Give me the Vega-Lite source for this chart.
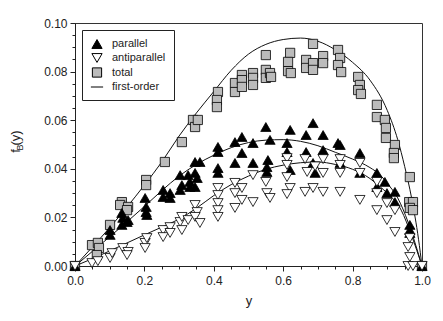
{
  "$schema": "https://vega.github.io/schema/vega-lite/v6.json",
  "width": 347,
  "height": 243,
  "autosize": {"type": "none"},
  "padding": {"left": 75, "top": 23, "right": 21, "bottom": 55},
  "config": {
    "view": {"stroke": "#333", "strokeWidth": 1},
    "font": "Liberation Sans",
    "axis": {
      "labelFont": "Liberation Sans", "labelFontSize": 12, "labelColor": "#222",
      "titleFont": "Liberation Sans", "titleFontSize": 13, "titleFontWeight": "normal", "titleColor": "#222",
      "domainColor": "#222", "tickColor": "#222", "grid": false
    },
    "legend": {
      "orient": "top-left", "offset": 7, "padding": 8,
      "strokeColor": "#222", "fillColor": "#fff", "cornerRadius": 0,
      "labelFont": "Liberation Sans", "labelFontSize": 11, "labelColor": "#222",
      "labelOffset": 8
    }
  },
  "datasets": {
    "points": [
      {"series": "total", "y": 0, "fB": 0},
      {"series": "total", "y": 0.049, "fB": 0.0086},
      {"series": "total", "y": 0.066, "fB": 0.0095},
      {"series": "total", "y": 0.069, "fB": 0.0074},
      {"series": "total", "y": 0.063, "fB": 0.0045},
      {"series": "total", "y": 0.101, "fB": 0.0169},
      {"series": "total", "y": 0.135, "fB": 0.0263},
      {"series": "total", "y": 0.130, "fB": 0.0251},
      {"series": "total", "y": 0.153, "fB": 0.0243},
      {"series": "total", "y": 0.150, "fB": 0.0230},
      {"series": "total", "y": 0.205, "fB": 0.0354},
      {"series": "total", "y": 0.205, "fB": 0.0333},
      {"series": "total", "y": 0.259, "fB": 0.0428},
      {"series": "total", "y": 0.308, "fB": 0.0510},
      {"series": "total", "y": 0.340, "fB": 0.0601},
      {"series": "total", "y": 0.346, "fB": 0.0572},
      {"series": "total", "y": 0.354, "fB": 0.0601},
      {"series": "total", "y": 0.412, "fB": 0.0716},
      {"series": "total", "y": 0.409, "fB": 0.0683},
      {"series": "total", "y": 0.409, "fB": 0.0654},
      {"series": "total", "y": 0.461, "fB": 0.0753},
      {"series": "total", "y": 0.461, "fB": 0.0716},
      {"series": "total", "y": 0.481, "fB": 0.0786},
      {"series": "total", "y": 0.481, "fB": 0.0765},
      {"series": "total", "y": 0.481, "fB": 0.0737},
      {"series": "total", "y": 0.513, "fB": 0.0794},
      {"series": "total", "y": 0.513, "fB": 0.0774},
      {"series": "total", "y": 0.513, "fB": 0.0745},
      {"series": "total", "y": 0.550, "fB": 0.0868},
      {"series": "total", "y": 0.550, "fB": 0.0807},
      {"series": "total", "y": 0.550, "fB": 0.0774},
      {"series": "total", "y": 0.562, "fB": 0.0794},
      {"series": "total", "y": 0.565, "fB": 0.0778},
      {"series": "total", "y": 0.620, "fB": 0.0877},
      {"series": "total", "y": 0.614, "fB": 0.0840},
      {"series": "total", "y": 0.614, "fB": 0.0802},
      {"series": "total", "y": 0.622, "fB": 0.0794},
      {"series": "total", "y": 0.666, "fB": 0.0848},
      {"series": "total", "y": 0.666, "fB": 0.0815},
      {"series": "total", "y": 0.686, "fB": 0.0914},
      {"series": "total", "y": 0.686, "fB": 0.0835},
      {"series": "total", "y": 0.686, "fB": 0.0807},
      {"series": "total", "y": 0.715, "fB": 0.0864},
      {"series": "total", "y": 0.715, "fB": 0.0835},
      {"series": "total", "y": 0.758, "fB": 0.0889},
      {"series": "total", "y": 0.764, "fB": 0.0856},
      {"series": "total", "y": 0.758, "fB": 0.0827},
      {"series": "total", "y": 0.767, "fB": 0.0798},
      {"series": "total", "y": 0.816, "fB": 0.0778},
      {"series": "total", "y": 0.821, "fB": 0.0745},
      {"series": "total", "y": 0.816, "fB": 0.0724},
      {"series": "total", "y": 0.824, "fB": 0.0708},
      {"series": "total", "y": 0.870, "fB": 0.0663},
      {"series": "total", "y": 0.870, "fB": 0.0613},
      {"series": "total", "y": 0.893, "fB": 0.0601},
      {"series": "total", "y": 0.896, "fB": 0.0568},
      {"series": "total", "y": 0.896, "fB": 0.0527},
      {"series": "total", "y": 0.922, "fB": 0.0498},
      {"series": "total", "y": 0.919, "fB": 0.0465},
      {"series": "total", "y": 0.919, "fB": 0.0444},
      {"series": "total", "y": 0.965, "fB": 0.0366},
      {"series": "total", "y": 0.963, "fB": 0.0263},
      {"series": "total", "y": 0.974, "fB": 0.0263},
      {"series": "total", "y": 0.965, "fB": 0.0239},
      {"series": "total", "y": 0.974, "fB": 0.0230},
      {"series": "total", "y": 1.0, "fB": 0},

      {"series": "parallel", "y": 0, "fB": 0},
      {"series": "parallel", "y": 0.101, "fB": 0.0128},
      {"series": "parallel", "y": 0.101, "fB": 0.0148},
      {"series": "parallel", "y": 0.135, "fB": 0.0218},
      {"series": "parallel", "y": 0.138, "fB": 0.0198},
      {"series": "parallel", "y": 0.150, "fB": 0.0181},
      {"series": "parallel", "y": 0.135, "fB": 0.0169},
      {"series": "parallel", "y": 0.153, "fB": 0.0189},
      {"series": "parallel", "y": 0.202, "fB": 0.0280},
      {"series": "parallel", "y": 0.205, "fB": 0.0243},
      {"series": "parallel", "y": 0.205, "fB": 0.0222},
      {"series": "parallel", "y": 0.207, "fB": 0.0210},
      {"series": "parallel", "y": 0.254, "fB": 0.0313},
      {"series": "parallel", "y": 0.254, "fB": 0.0284},
      {"series": "parallel", "y": 0.274, "fB": 0.0300},
      {"series": "parallel", "y": 0.274, "fB": 0.0280},
      {"series": "parallel", "y": 0.303, "fB": 0.0374},
      {"series": "parallel", "y": 0.308, "fB": 0.0333},
      {"series": "parallel", "y": 0.303, "fB": 0.0313},
      {"series": "parallel", "y": 0.326, "fB": 0.0374},
      {"series": "parallel", "y": 0.331, "fB": 0.0346},
      {"series": "parallel", "y": 0.331, "fB": 0.0325},
      {"series": "parallel", "y": 0.346, "fB": 0.0428},
      {"series": "parallel", "y": 0.360, "fB": 0.0428},
      {"series": "parallel", "y": 0.346, "fB": 0.0383},
      {"series": "parallel", "y": 0.352, "fB": 0.0362},
      {"series": "parallel", "y": 0.346, "fB": 0.0325},
      {"series": "parallel", "y": 0.412, "fB": 0.0490},
      {"series": "parallel", "y": 0.412, "fB": 0.0469},
      {"series": "parallel", "y": 0.412, "fB": 0.0403},
      {"series": "parallel", "y": 0.412, "fB": 0.0383},
      {"series": "parallel", "y": 0.461, "fB": 0.0510},
      {"series": "parallel", "y": 0.481, "fB": 0.0531},
      {"series": "parallel", "y": 0.481, "fB": 0.0465},
      {"series": "parallel", "y": 0.461, "fB": 0.0424},
      {"series": "parallel", "y": 0.513, "fB": 0.0506},
      {"series": "parallel", "y": 0.513, "fB": 0.0424},
      {"series": "parallel", "y": 0.550, "fB": 0.0572},
      {"series": "parallel", "y": 0.562, "fB": 0.0519},
      {"series": "parallel", "y": 0.556, "fB": 0.0436},
      {"series": "parallel", "y": 0.553, "fB": 0.0407},
      {"series": "parallel", "y": 0.553, "fB": 0.0387},
      {"series": "parallel", "y": 0.620, "fB": 0.0560},
      {"series": "parallel", "y": 0.611, "fB": 0.0506},
      {"series": "parallel", "y": 0.611, "fB": 0.0469},
      {"series": "parallel", "y": 0.620, "fB": 0.0395},
      {"series": "parallel", "y": 0.666, "fB": 0.0539},
      {"series": "parallel", "y": 0.666, "fB": 0.0469},
      {"series": "parallel", "y": 0.686, "fB": 0.0588},
      {"series": "parallel", "y": 0.715, "fB": 0.0539},
      {"series": "parallel", "y": 0.758, "fB": 0.0506},
      {"series": "parallel", "y": 0.764, "fB": 0.0498},
      {"series": "parallel", "y": 0.715, "fB": 0.0477},
      {"series": "parallel", "y": 0.764, "fB": 0.0424},
      {"series": "parallel", "y": 0.686, "fB": 0.0424},
      {"series": "parallel", "y": 0.692, "fB": 0.0383},
      {"series": "parallel", "y": 0.821, "fB": 0.0465},
      {"series": "parallel", "y": 0.821, "fB": 0.0383},
      {"series": "parallel", "y": 0.870, "fB": 0.0383},
      {"series": "parallel", "y": 0.893, "fB": 0.0346},
      {"series": "parallel", "y": 0.870, "fB": 0.0325},
      {"series": "parallel", "y": 0.899, "fB": 0.0300},
      {"series": "parallel", "y": 0.922, "fB": 0.0305},
      {"series": "parallel", "y": 0.922, "fB": 0.0263},
      {"series": "parallel", "y": 0.965, "fB": 0.0169},
      {"series": "parallel", "y": 0.965, "fB": 0.0148},
      {"series": "parallel", "y": 0.965, "fB": 0.0136},
      {"series": "parallel", "y": 1.0, "fB": 0},

      {"series": "antiparallel", "y": 0, "fB": 0},
      {"series": "antiparallel", "y": 0.049, "fB": 0.0012},
      {"series": "antiparallel", "y": 0.066, "fB": 0.0020},
      {"series": "antiparallel", "y": 0.101, "fB": 0.0033},
      {"series": "antiparallel", "y": 0.107, "fB": 0.0053},
      {"series": "antiparallel", "y": 0.138, "fB": 0.0074},
      {"series": "antiparallel", "y": 0.153, "fB": 0.0058},
      {"series": "antiparallel", "y": 0.150, "fB": 0.0045},
      {"series": "antiparallel", "y": 0.202, "fB": 0.0095},
      {"series": "antiparallel", "y": 0.207, "fB": 0.0115},
      {"series": "antiparallel", "y": 0.202, "fB": 0.0074},
      {"series": "antiparallel", "y": 0.254, "fB": 0.0148},
      {"series": "antiparallel", "y": 0.254, "fB": 0.0119},
      {"series": "antiparallel", "y": 0.274, "fB": 0.0160},
      {"series": "antiparallel", "y": 0.274, "fB": 0.0136},
      {"series": "antiparallel", "y": 0.303, "fB": 0.0181},
      {"series": "antiparallel", "y": 0.308, "fB": 0.0148},
      {"series": "antiparallel", "y": 0.308, "fB": 0.0202},
      {"series": "antiparallel", "y": 0.326, "fB": 0.0189},
      {"series": "antiparallel", "y": 0.346, "fB": 0.0251},
      {"series": "antiparallel", "y": 0.352, "fB": 0.0222},
      {"series": "antiparallel", "y": 0.346, "fB": 0.0202},
      {"series": "antiparallel", "y": 0.360, "fB": 0.0177},
      {"series": "antiparallel", "y": 0.412, "fB": 0.0321},
      {"series": "antiparallel", "y": 0.412, "fB": 0.0292},
      {"series": "antiparallel", "y": 0.412, "fB": 0.0259},
      {"series": "antiparallel", "y": 0.412, "fB": 0.0230},
      {"series": "antiparallel", "y": 0.412, "fB": 0.0202},
      {"series": "antiparallel", "y": 0.461, "fB": 0.0342},
      {"series": "antiparallel", "y": 0.481, "fB": 0.0321},
      {"series": "antiparallel", "y": 0.461, "fB": 0.0300},
      {"series": "antiparallel", "y": 0.481, "fB": 0.0272},
      {"series": "antiparallel", "y": 0.461, "fB": 0.0239},
      {"series": "antiparallel", "y": 0.513, "fB": 0.0374},
      {"series": "antiparallel", "y": 0.513, "fB": 0.0263},
      {"series": "antiparallel", "y": 0.550, "fB": 0.0346},
      {"series": "antiparallel", "y": 0.553, "fB": 0.0300},
      {"series": "antiparallel", "y": 0.562, "fB": 0.0280},
      {"series": "antiparallel", "y": 0.611, "fB": 0.0444},
      {"series": "antiparallel", "y": 0.611, "fB": 0.0416},
      {"series": "antiparallel", "y": 0.611, "fB": 0.0366},
      {"series": "antiparallel", "y": 0.620, "fB": 0.0321},
      {"series": "antiparallel", "y": 0.611, "fB": 0.0296},
      {"series": "antiparallel", "y": 0.663, "fB": 0.0440},
      {"series": "antiparallel", "y": 0.715, "fB": 0.0440},
      {"series": "antiparallel", "y": 0.692, "fB": 0.0410},
      {"series": "antiparallel", "y": 0.669, "fB": 0.0387},
      {"series": "antiparallel", "y": 0.715, "fB": 0.0383},
      {"series": "antiparallel", "y": 0.663, "fB": 0.0305},
      {"series": "antiparallel", "y": 0.686, "fB": 0.0321},
      {"series": "antiparallel", "y": 0.715, "fB": 0.0305},
      {"series": "antiparallel", "y": 0.764, "fB": 0.0440},
      {"series": "antiparallel", "y": 0.764, "fB": 0.0416},
      {"series": "antiparallel", "y": 0.764, "fB": 0.0383},
      {"series": "antiparallel", "y": 0.764, "fB": 0.0305},
      {"series": "antiparallel", "y": 0.821, "fB": 0.0424},
      {"series": "antiparallel", "y": 0.821, "fB": 0.0383},
      {"series": "antiparallel", "y": 0.821, "fB": 0.0272},
      {"series": "antiparallel", "y": 0.870, "fB": 0.0346},
      {"series": "antiparallel", "y": 0.870, "fB": 0.0300},
      {"series": "antiparallel", "y": 0.870, "fB": 0.0230},
      {"series": "antiparallel", "y": 0.899, "fB": 0.0259},
      {"series": "antiparallel", "y": 0.899, "fB": 0.0189},
      {"series": "antiparallel", "y": 0.922, "fB": 0.0230},
      {"series": "antiparallel", "y": 0.922, "fB": 0.0140},
      {"series": "antiparallel", "y": 0.965, "fB": 0.0115},
      {"series": "antiparallel", "y": 0.960, "fB": 0.0078},
      {"series": "antiparallel", "y": 0.965, "fB": 0.0037},
      {"series": "antiparallel", "y": 0.960, "fB": 0.0},
      {"series": "antiparallel", "y": 0.974, "fB": 0.0},
      {"series": "antiparallel", "y": 1.0, "fB": 0}
    ],
    "curves": [
      {"curve": "total", "y": 0, "fB": 0},
      {"curve": "total", "y": 0.05, "fB": 0.0078},
      {"curve": "total", "y": 0.1, "fB": 0.0158},
      {"curve": "total", "y": 0.15, "fB": 0.0243},
      {"curve": "total", "y": 0.2, "fB": 0.0333},
      {"curve": "total", "y": 0.25, "fB": 0.0428},
      {"curve": "total", "y": 0.3, "fB": 0.0535},
      {"curve": "total", "y": 0.35, "fB": 0.0630},
      {"curve": "total", "y": 0.4, "fB": 0.0718},
      {"curve": "total", "y": 0.45, "fB": 0.0805},
      {"curve": "total", "y": 0.5, "fB": 0.0872},
      {"curve": "total", "y": 0.55, "fB": 0.0912},
      {"curve": "total", "y": 0.6, "fB": 0.0932},
      {"curve": "total", "y": 0.65, "fB": 0.0938},
      {"curve": "total", "y": 0.7, "fB": 0.0925},
      {"curve": "total", "y": 0.75, "fB": 0.0890},
      {"curve": "total", "y": 0.8, "fB": 0.0838},
      {"curve": "total", "y": 0.85, "fB": 0.0765},
      {"curve": "total", "y": 0.9, "fB": 0.0640},
      {"curve": "total", "y": 0.93, "fB": 0.0520},
      {"curve": "total", "y": 0.95, "fB": 0.0410},
      {"curve": "total", "y": 0.97, "fB": 0.0280},
      {"curve": "total", "y": 0.99, "fB": 0.0110},
      {"curve": "total", "y": 1.0, "fB": 0},
      {"curve": "parallel", "y": 0, "fB": 0},
      {"curve": "parallel", "y": 0.05, "fB": 0.0060},
      {"curve": "parallel", "y": 0.1, "fB": 0.0120},
      {"curve": "parallel", "y": 0.15, "fB": 0.0182},
      {"curve": "parallel", "y": 0.2, "fB": 0.0245},
      {"curve": "parallel", "y": 0.25, "fB": 0.0310},
      {"curve": "parallel", "y": 0.3, "fB": 0.0370},
      {"curve": "parallel", "y": 0.35, "fB": 0.0418},
      {"curve": "parallel", "y": 0.4, "fB": 0.0456},
      {"curve": "parallel", "y": 0.45, "fB": 0.0487},
      {"curve": "parallel", "y": 0.5, "fB": 0.0508},
      {"curve": "parallel", "y": 0.55, "fB": 0.0518},
      {"curve": "parallel", "y": 0.6, "fB": 0.0520},
      {"curve": "parallel", "y": 0.65, "fB": 0.0513},
      {"curve": "parallel", "y": 0.7, "fB": 0.0495},
      {"curve": "parallel", "y": 0.75, "fB": 0.0468},
      {"curve": "parallel", "y": 0.8, "fB": 0.0440},
      {"curve": "parallel", "y": 0.85, "fB": 0.0405},
      {"curve": "parallel", "y": 0.88, "fB": 0.0374},
      {"curve": "parallel", "y": 0.9, "fB": 0.0340},
      {"curve": "parallel", "y": 0.93, "fB": 0.0280},
      {"curve": "parallel", "y": 0.96, "fB": 0.0180},
      {"curve": "parallel", "y": 0.98, "fB": 0.0095},
      {"curve": "parallel", "y": 1.0, "fB": 0},
      {"curve": "antiparallel", "y": 0, "fB": 0},
      {"curve": "antiparallel", "y": 0.05, "fB": 0.0030},
      {"curve": "antiparallel", "y": 0.1, "fB": 0.0062},
      {"curve": "antiparallel", "y": 0.15, "fB": 0.0095},
      {"curve": "antiparallel", "y": 0.2, "fB": 0.0128},
      {"curve": "antiparallel", "y": 0.25, "fB": 0.0160},
      {"curve": "antiparallel", "y": 0.3, "fB": 0.0193},
      {"curve": "antiparallel", "y": 0.35, "fB": 0.0238},
      {"curve": "antiparallel", "y": 0.4, "fB": 0.0290},
      {"curve": "antiparallel", "y": 0.45, "fB": 0.0335},
      {"curve": "antiparallel", "y": 0.5, "fB": 0.0370},
      {"curve": "antiparallel", "y": 0.55, "fB": 0.0398},
      {"curve": "antiparallel", "y": 0.6, "fB": 0.0415},
      {"curve": "antiparallel", "y": 0.65, "fB": 0.0425},
      {"curve": "antiparallel", "y": 0.7, "fB": 0.0428},
      {"curve": "antiparallel", "y": 0.75, "fB": 0.0418},
      {"curve": "antiparallel", "y": 0.8, "fB": 0.0398},
      {"curve": "antiparallel", "y": 0.85, "fB": 0.0360},
      {"curve": "antiparallel", "y": 0.88, "fB": 0.0325},
      {"curve": "antiparallel", "y": 0.9, "fB": 0.0300},
      {"curve": "antiparallel", "y": 0.94, "fB": 0.0230},
      {"curve": "antiparallel", "y": 0.97, "fB": 0.0125},
      {"curve": "antiparallel", "y": 1.0, "fB": 0}
    ]
  },
  "layer": [
    {
      "data": {"name": "curves"},
      "mark": {"type": "line", "color": "#111", "strokeWidth": 1, "interpolate": "monotone"},
      "encoding": {
        "x": {"field": "y", "type": "quantitative", "scale": {"domain": [0, 1], "nice": false, "zero": false},
          "axis": {"orient": "bottom", "values": [0,0.05,0.1,0.15,0.2,0.25,0.3,0.35,0.4,0.45,0.5,0.55,0.6,0.65,0.7,0.75,0.8,0.85,0.9,0.95,1], "labels": false, "domain": false, "tickSize": 3, "title": null}},
        "y": {"field": "fB", "type": "quantitative", "scale": {"domain": [0, 0.1], "nice": false, "zero": false},
          "axis": {"orient": "left", "values": [0,0.005,0.01,0.015,0.02,0.025,0.03,0.035,0.04,0.045,0.05,0.055,0.06,0.065,0.07,0.075,0.08,0.085,0.09,0.095,0.1], "labels": false, "domain": false, "tickSize": 3, "title": "B", "titleFontSize": 9, "titleX": -51, "titleY": 124}},
        "detail": {"field": "curve", "type": "nominal"}
      }
    },
    {
      "data": {"name": "points"},
      "mark": {"type": "point", "filled": true, "stroke": "#000", "strokeWidth": 0.8, "opacity": 1},
      "encoding": {
        "x": {"field": "y", "type": "quantitative", "scale": {"domain": [0, 1], "nice": false, "zero": false},
          "axis": {"orient": "bottom", "values": [0,0.2,0.4,0.6,0.8,1], "format": ".1f", "tickSize": 5, "labelPadding": 4, "title": "y", "titlePadding": 8, "labelFlush": false}},
        "y": {"field": "fB", "type": "quantitative", "scale": {"domain": [0, 0.1], "nice": false, "zero": false},
          "axis": {"orient": "left", "values": [0,0.02,0.04,0.06,0.08,0.1], "format": ".2f", "tickSize": 5, "labelPadding": 3, "title": "f  (y)", "titleX": -53, "titleY": 118, "labelFlush": false}},
        "shape": {"field": "series", "type": "nominal", "title": null,
          "scale": {"domain": ["parallel", "antiparallel", "total", "first-order"], "range": ["triangle-up", "triangle-down", "square", "stroke"]},
          "legend": {"rowPadding": 0, "symbolStrokeColor": "#000", "symbolStrokeWidth": 1,
            "encode": {"symbols": {"update": {"stroke": {"value": "#000"}, "strokeWidth": {"value": 1}}}}}},
        "fill": {"field": "series", "type": "nominal", "title": null,
          "scale": {"domain": ["parallel", "antiparallel", "total", "first-order"], "range": ["#000000", "#ffffff", "#bbbbbb", "#000000"]}},
        "size": {"field": "series", "type": "nominal", "title": null,
          "scale": {"type": "ordinal", "domain": ["parallel", "antiparallel", "total", "first-order"], "range": [105, 105, 85, 150]}}
      }
    }
  ],
  "resolve": {"axis": {"x": "independent", "y": "independent"}}
}
